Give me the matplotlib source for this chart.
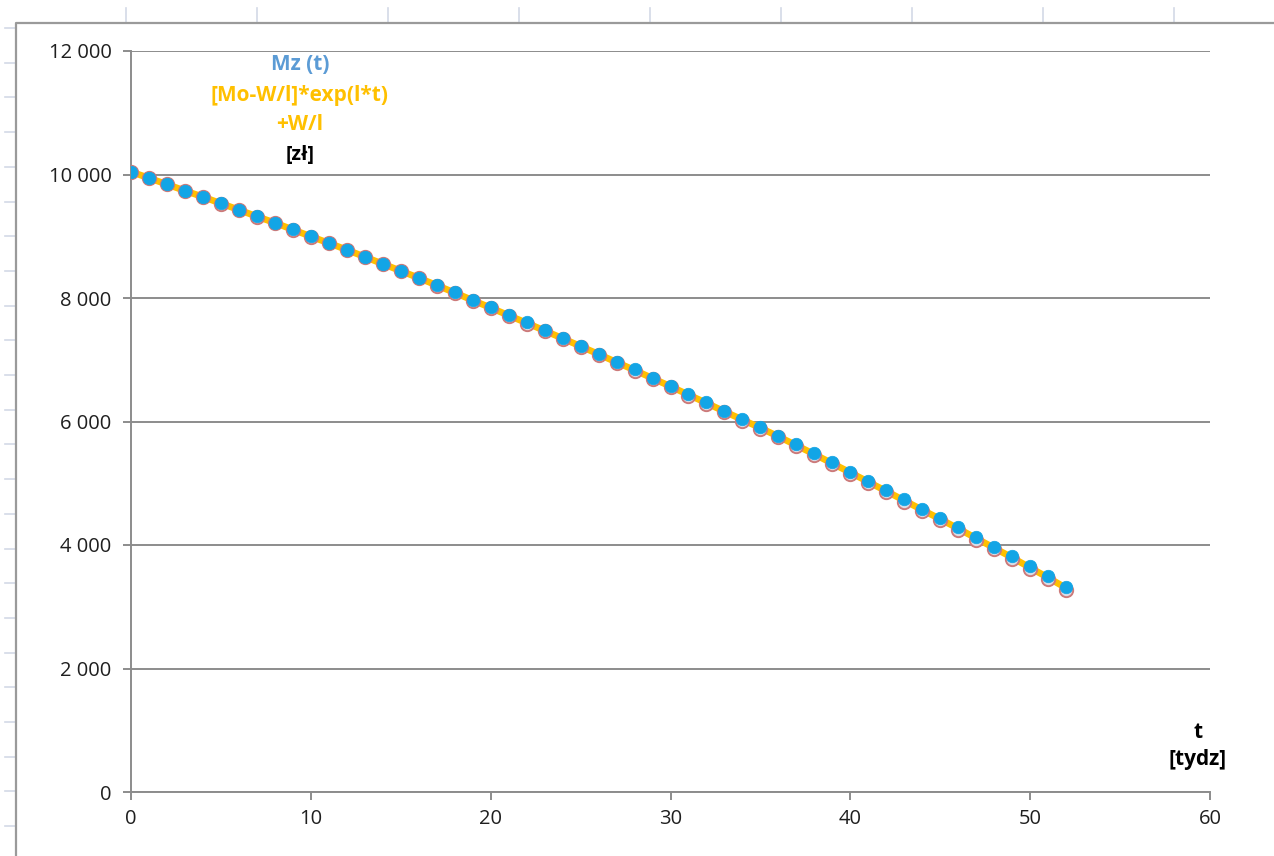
import matplotlib
matplotlib.use('Agg')
import matplotlib.pyplot as plt
from matplotlib.lines import Line2D
from matplotlib.ticker import FuncFormatter, MultipleLocator

plt.rcParams['font.family'] = ['Open Sans', 'DejaVu Sans']

# weeks and account balance [zł]
weeks = list(range(53))
mz_sim = [10045, 9943, 9842, 9738, 9640, 9534, 9430, 9322, 9220, 9110,
          9000, 8893, 8785, 8670, 8558, 8444, 8330, 8212, 8092, 7970,
          7849, 7726, 7604, 7480, 7355, 7228, 7100, 6970, 6843, 6712,
          6580, 6446, 6312, 6176, 6043, 5910, 5772, 5630, 5485, 5338,
          5190, 5040, 4890, 4740, 4588, 4440, 4288, 4130, 3975, 3820,
          3655, 3495, 3325]
mz_table = [10045, 9941, 9840, 9735, 9637, 9530, 9426, 9318, 9215, 9104,
            8994, 8886, 8777, 8661, 8548, 8433, 8319, 8200, 8079, 7956,
            7834, 7710, 7587, 7462, 7336, 7208, 7079, 6948, 6820, 6688,
            6555, 6420, 6285, 6148, 6014, 5880, 5741, 5598, 5452, 5304,
            5155, 5003, 4852, 4700, 4547, 4397, 4244, 4086, 3929, 3772,
            3606, 3446, 3278]
mz_formula = [10045, 9942, 9841, 9737, 9638, 9532, 9428, 9320, 9218, 9107,
              8997, 8889, 8781, 8666, 8553, 8439, 8325, 8206, 8086, 7963,
              7842, 7718, 7596, 7471, 7346, 7218, 7090, 6959, 6832, 6700,
              6568, 6433, 6299, 6162, 6029, 5895, 5757, 5614, 5469, 5321,
              5173, 5022, 4871, 4720, 4568, 4419, 4266, 4108, 3952, 3796,
              3631, 3471, 3302]

W, H = 1274, 856
fig = plt.figure(figsize=(W / 100, H / 100), dpi=100)
fig.patch.set_facecolor('white')


def fx(px):
    return px / W


def fy(py):
    return 1 - py / H


# spreadsheet cell marks behind the chart
sheet = '#d3d9e6'
for x in [126, 257, 388, 519, 650, 781, 912, 1043, 1174]:
    fig.add_artist(Line2D([fx(x), fx(x)], [fy(8), fy(22)], color=sheet, lw=1.2))
for k in range(24):
    y = 28 + 34.7 * k
    if y > H:
        break
    fig.add_artist(Line2D([fx(5), fx(15)], [fy(y), fy(y)], color=sheet, lw=1.2))

# chart area border
fig.add_artist(Line2D([fx(16), fx(16), fx(W)], [fy(H), fy(23), fy(23)],
                      color='#9a9a9a', lw=1.6))

ax = fig.add_axes([fx(131), fy(792), fx(1210) - fx(131), (792 - 51) / H])
ax.set_facecolor('none')

ax.plot(weeks, mz_formula, color='#ffc000', lw=4.8, zorder=2)
ax.plot(weeks, mz_table, 'o', ms=9.6, mfc='#d9dee8', mec='#cc7a7a', mew=1.4,
        zorder=3)
ax.plot(weeks, mz_sim, 'o', ms=9.0, mfc='#12a5e6', mec='#12a5e6', mew=0.5,
        zorder=4)

ax.set_xlim(0, 60)
ax.set_ylim(0, 12000)
ax.xaxis.set_major_locator(MultipleLocator(10))
ax.yaxis.set_major_locator(MultipleLocator(2000))
ax.yaxis.set_major_formatter(FuncFormatter(lambda v, p: f'{int(v):,}'.replace(',', ' ')))

grid_c = '#8c8c8c'
ax.grid(axis='y', color=grid_c, lw=1.4, zorder=0)
ax.set_axisbelow(True)
for side in ['top', 'right']:
    ax.spines[side].set_visible(False)
for side in ['left', 'bottom']:
    ax.spines[side].set_color(grid_c)
    ax.spines[side].set_linewidth(1.4)
ax.tick_params(axis='both', direction='out', length=6, width=1.4, color=grid_c,
               labelsize=14.5, labelcolor='#1f1f1f')
ax.tick_params(axis='y', pad=8)
ax.tick_params(axis='x', pad=6)

# axis captions
fig.text(fx(300), fy(65), 'Mz (t)', ha='center', va='center',
         color='#5b9bd5', fontsize=15, fontweight='bold')
fig.text(fx(300), fy(95), '[Mo-W/l]*exp(l*t)', ha='center', va='center',
         color='#ffc000', fontsize=15, fontweight='bold')
fig.text(fx(300), fy(124), '+W/l', ha='center', va='center',
         color='#ffc000', fontsize=15, fontweight='bold')
fig.text(fx(300), fy(155), '[zł]', ha='center', va='center',
         color='black', fontsize=14, fontweight='bold')
fig.text(fx(1198), fy(733), 't', ha='center', va='center',
         color='black', fontsize=15, fontweight='bold')
fig.text(fx(1198), fy(760), '[tydz]', ha='center', va='center',
         color='black', fontsize=15, fontweight='bold')

fig.savefig('out.png', dpi=100, facecolor='white')
